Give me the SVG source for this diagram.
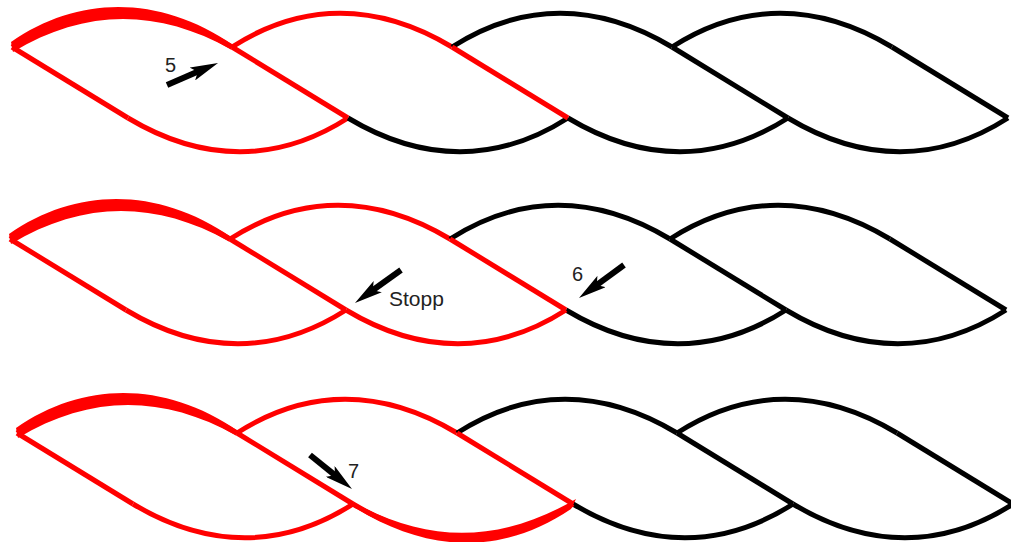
<svg xmlns="http://www.w3.org/2000/svg" width="1011" height="542" viewBox="0 0 1011 542">
  <style>
    .s { fill: none; stroke-width: 5; stroke-linejoin: round; }
    .r { stroke: #ff0000; }
    .k { stroke: #000000; }
    .thick { fill: #ff0000; stroke: none; }
    .arrow { stroke: #000000; stroke-width: 6; fill: none; marker-end: url(#head); }
    .lbl { font-family: "Liberation Sans", Arial, sans-serif; fill: #222222; }
  </style>
  <defs>
    <marker id="head" markerUnits="userSpaceOnUse" viewBox="0 0 28 14" markerWidth="28" markerHeight="14" refX="10" refY="7" orient="auto">
      <path d="M0,0 L28,7 L0,14 L6,7 Z" fill="#000000"/>
    </marker>
    <path id="thickTop" d="M-1,-5 C67,-52 148,-52 221,-2 L219,2.5 C145,-39 72,-38 1,5 Z"/>
    <path id="thickBot" d="M0,-2 C75,40 148,39 223,-5 L218,5 C150,51 75,50 0,2.5 Z"/>
  </defs>

  <rect width="1011" height="542" fill="#ffffff"/>

  <g id="row1">
    <use href="#thickTop" x="12" y="47" class="thick"/>
    <path class="s r" d="M12,47 c70,-45 145,-45 220,0"/>
    <path class="s r" d="M232,47 c70,-45 145,-45 220,0"/>
    <path class="s k" d="M452,47 c70,-45 145,-45 220,0"/>
    <path class="s k" d="M672,47 c70,-45 145,-45 220,0"/>
    <path class="s r" d="M128,118 c75,45 150,45 220,0"/>
    <path class="s k" d="M348,118 c75,45 150,45 220,0"/>
    <path class="s k" d="M568,118 c75,45 150,45 220,0"/>
    <path class="s k" d="M788,118 c75,45 150,45 220,0"/>
    <path class="s k" d="M672,47 l116,71"/>
    <path class="s k" d="M892,47 l116,71"/>
    <path class="s r" d="M12,47 l116,71"/>
    <path class="s r" d="M232,47 l116,71"/>
    <path class="s r" d="M452,47 l116,71"/>
  </g>

  <g id="row2">
    <use href="#thickTop" x="10" y="239" class="thick"/>
    <path class="s r" d="M10,239 c70,-45 145,-45 220,0"/>
    <path class="s r" d="M230,239 c70,-45 145,-45 220,0"/>
    <path class="s k" d="M450,239 c70,-45 145,-45 220,0"/>
    <path class="s k" d="M670,239 c70,-45 145,-45 220,0"/>
    <path class="s r" d="M126,310 c75,45 150,45 220,0"/>
    <path class="s k" d="M566,310 c75,45 150,45 220,0"/>
    <path class="s k" d="M786,310 c75,45 150,45 220,0"/>
    <path class="s r" d="M346,310 c75,45 150,45 220,0"/>
    <path class="s k" d="M670,239 l116,71"/>
    <path class="s k" d="M890,239 l116,71"/>
    <path class="s r" d="M10,239 l116,71"/>
    <path class="s r" d="M230,239 l116,71"/>
    <path class="s r" d="M450,239 l116,71"/>
  </g>

  <g id="row3">
    <use href="#thickTop" x="17" y="433" class="thick"/>
    <path class="s r" d="M17,433 c70,-45 145,-45 220,0"/>
    <path class="s r" d="M237,433 c70,-45 145,-45 220,0"/>
    <path class="s k" d="M457,433 c70,-45 145,-45 220,0"/>
    <path class="s k" d="M677,433 c70,-45 145,-45 220,0"/>
    <path class="s r" d="M133,504 c75,45 150,45 220,0"/>
    <path class="s k" d="M573,504 c75,45 150,45 220,0"/>
    <path class="s k" d="M793,504 c75,45 150,45 220,0"/>
    <use href="#thickBot" x="353" y="504" class="thick"/>
    <path class="s r" d="M353,504 c75,45 150,45 220,0"/>
    <path class="s k" d="M677,433 l116,71"/>
    <path class="s k" d="M897,433 l116,71"/>
    <path class="s r" d="M17,433 l116,71"/>
    <path class="s r" d="M237,433 l116,71"/>
    <path class="s r" d="M457,433 l116,71"/>
  </g>

  <g id="arrows">
    <line class="arrow" x1="167" y1="85" x2="201.5" y2="70.1"/>
    <line class="arrow" x1="401" y1="270" x2="369.6" y2="292.5"/>
    <line class="arrow" x1="624" y1="265" x2="593.5" y2="287.4"/>
    <line class="arrow" x1="310" y1="455" x2="338" y2="477.7"/>
  </g>

  <g id="labels">
    <text class="lbl" x="165" y="72" font-size="20">5</text>
    <text class="lbl" x="389" y="306" font-size="21">Stopp</text>
    <text class="lbl" x="572" y="281" font-size="20">6</text>
    <text class="lbl" x="348" y="478" font-size="20">7</text>
  </g>
</svg>
